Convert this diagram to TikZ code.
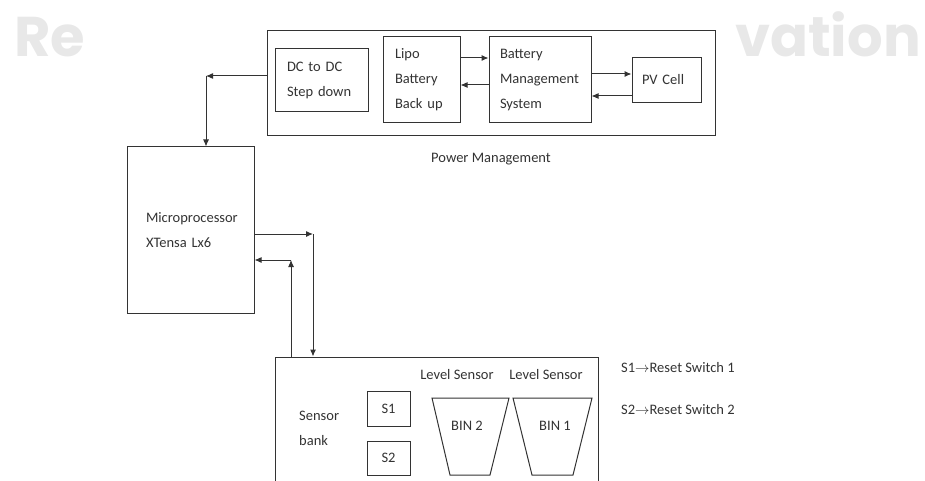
\documentclass[tikz,border=0pt]{standalone}
\usepackage{fontspec}
\setmainfont{Carlito}
\newfontfamily\wmfont{Poppins}
\usetikzlibrary{arrows.meta,positioning}
\definecolor{ink}{HTML}{333333}
\definecolor{wmgray}{HTML}{E8E8E8}
\newcommand{\dgfont}{\fontsize{14.5}{25}\selectfont}
\tikzset{
  blk/.style={draw=ink, line width=1pt, align=left, text=ink, font=\dgfont, inner ysep=0pt},
  lbl/.style={text=ink, font=\dgfont, inner sep=0pt, align=left},
  wm/.style={text=wmgray, font=\wmfont\bfseries\fontsize{56}{56}\selectfont, inner sep=0pt},
  binline/.style={draw=ink, line width=1pt},
  arr/.style={-{Latex[length=7pt,width=6pt]}, line width=1pt, color=ink}}
\begin{document}
\begin{tikzpicture}[x=1pt,y=-1pt]
  \useasboundingbox (0,0) rectangle (925,481);
  \clip (0,0) rectangle (925,481);
  % watermark
  \node[wm, anchor=base west] (wmL) at (14,57) {Re};
  \node[wm, anchor=base east] (wmR) at (921,57) {vation};
  % power management
  \node[blk, minimum width=448, minimum height=105] (pm) at (491,83.5) {};
  \node[blk, text width=69, inner xsep=12, minimum height=63] (dcdc) at (321.5,80.5) {DC to DC\\Step down};
  \node[blk, text width=53, inner xsep=12, minimum height=86] (lipo) at (421.5,80) {Lipo\\Battery\\Back up};
  \node[blk, text width=80, inner xsep=11, minimum height=86] (bms) at (540,80) {Battery\\Management\\System};
  \node[blk, text width=49, inner xsep=10, minimum height=45] (pv) at (666.5,80) {PV Cell};
  \node[lbl, below=16pt of pm] (pmlbl) {Power Management};
  % microprocessor
  \node[blk, text width=89, inner xsep=19, minimum height=166] (mcu) at (190.5,230) {Microprocessor\\XTensa Lx6};
  % sensor bank
  \node[blk, minimum width=323, minimum height=138] (sens) at (436.5,426) {};
  \node[lbl, anchor=west] (sbank) at (299,428) {Sensor\\bank};
  \node[blk, align=center, inner sep=0pt, minimum width=43, minimum height=35] (s1) at (388.5,408.5) {S1};
  \node[blk, align=center, inner sep=0pt, minimum width=43, minimum height=34] (s2) at (388.5,458) {S2};
  \node[lbl] (lvl2) at (457,375) {Level Sensor};
  \node[lbl] (lvl1) at (546,375) {Level Sensor};
  \draw[binline] (432,398) -- (509,398) -- (490,475) -- (450,475) -- cycle;
  \draw[binline] (513,398) -- (592,398) -- (573,475) -- (532,475) -- cycle;
  \node[lbl] (bin2) at (467,426) {BIN 2};
  \node[lbl] (bin1) at (555,426) {BIN 1};
  \node[lbl, anchor=west] (note1) at (621,368) {S1$\rightarrow$Reset Switch 1};
  \node[lbl, anchor=west] (note2) at (621,410) {S2$\rightarrow$Reset Switch 2};
  % connectors
  \coordinate (c1) at (206,76);
  \draw[arr] ([yshift=7.5pt]pm.west) -- (c1);
  \draw[arr] (c1) -- (c1 |- mcu.north);
  \draw[arr] ([yshift=22pt]lipo.east) -- ([yshift=22pt]bms.west);
  \draw[arr] ([yshift=-5pt]bms.west) -- ([yshift=-5pt]lipo.east);
  \draw[arr] ([yshift=6pt]bms.east) -- ([yshift=6pt]pv.west);
  \draw[arr] ([yshift=-16pt]pv.west) -- ([yshift=-16pt]bms.east);
  \coordinate (c2) at (313,234);
  \draw[arr] ([yshift=-4pt]mcu.east) -- (c2);
  \draw[arr] (c2) -- (c2 |- sens.north);
  \coordinate (c3) at (291,260);
  \draw[arr] (c3 |- sens.north) -- (c3);
  \draw[arr] (c3) -- ([yshift=-30pt]mcu.east);
\end{tikzpicture}
\end{document}
